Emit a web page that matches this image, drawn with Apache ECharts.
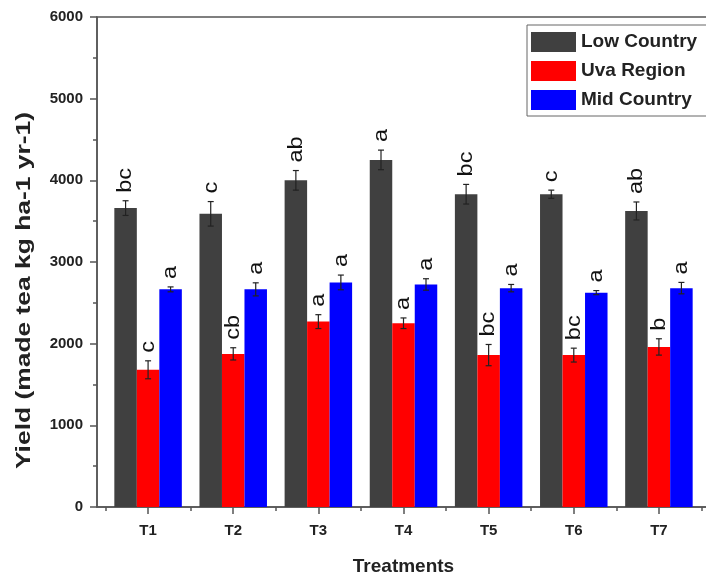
<!DOCTYPE html>
<html><head><meta charset="utf-8">
<script src="https://cdn.jsdelivr.net/npm/echarts@6/dist/echarts.min.js"></script>
<style>html,body{margin:0;padding:0;background:#fff}#c{width:706px;height:579px}</style>
</head><body><div id="c"></div>
<script>
const categories = ['T1','T2','T3','T4','T5','T6','T7'];
const seriesNames = ['Low Country','Uva Region','Mid Country'];
const lowCountry = [3660,3590,4000,4250,3830,3830,3625];
const lowCountryErr = [90,150,120,120,120,50,110];
const uvaRegion = [1680,1875,2270,2250,1860,1860,1960];
const uvaRegionErr = [110,75,85,65,130,85,100];
const midCountry = [2665,2665,2750,2725,2680,2625,2680];
const midCountryErr = [30,80,90,70,45,25,70];
const lowLetters = ['bc','c','ab','a','bc','c','ab'];
const uvaLetters = ['c','cb','a','a','bc','bc','b'];
const midLetters = ['a','a','a','a','a','a','a'];
const yTitle = 'Yield (made tea kg ha-1 yr-1)';
const xTitle = 'Treatments';

const colors = ['#404040','#ff0000','#0000ff'];
const BAR_W = 22.5;
const FONT = '"Liberation Sans", Arial, sans-serif';
const catPos = categories.map((c,i)=>i+1);
const boundaryPos = [0].concat(catPos).map(v=>v+0.5);

function barSeries(name, vals, color){
  return {name, type:'bar', xAxisIndex:0, yAxisIndex:0, barWidth:BAR_W, barGap:'0%',
    itemStyle:{color}, data: vals.map((v,i)=>[catPos[i], v])};
}
function errSeries(name, vals, errs, letters, offset){
  return {name: name+' err', type:'custom', xAxisIndex:0, yAxisIndex:0, z:5,
    data: vals.map((v,i)=>[catPos[i], v, errs[i], i]),
    renderItem(params, api){
      const x = api.value(0), v = api.value(1), e = api.value(2), i = api.value(3);
      const top = api.coord([x, v+e]), bot = api.coord([x, v-e]);
      const cx = top[0] + offset*BAR_W, cap = 3;
      const st = {stroke:'#222', lineWidth:1.2};
      return {type:'group', children:[
        {type:'line', shape:{x1:cx,y1:top[1],x2:cx,y2:bot[1]}, style:st},
        {type:'line', shape:{x1:cx-cap,y1:top[1],x2:cx+cap,y2:top[1]}, style:st},
        {type:'line', shape:{x1:cx-cap,y1:bot[1],x2:cx+cap,y2:bot[1]}, style:st},
        {type:'text', x:cx, y:top[1]-8, rotation:Math.PI/2, scaleX:1.12,
          style:{text:letters[i], fill:'#111', font:'21px '+FONT, align:'left', verticalAlign:'middle'}}
      ]};
    }};
}

const chart = echarts.init(document.getElementById('c'), null, {renderer:'canvas'});
chart.setOption({
  animation:false,
  backgroundColor:'#fff',
  textStyle:{fontFamily:FONT},
  grid:{left:97, top:17, right:-4, bottom:72, show:true, borderColor:'#555', borderWidth:1.5, outerBoundsMode:'none'},
  legend:{orient:'vertical', left:527, top:25, data:seriesNames, icon:'rect', itemWidth:45, itemHeight:20, itemGap:9,
    padding:[7,40,6,4], borderColor:'#666', borderWidth:1, itemStyle:{borderWidth:0},
    textStyle:{fontSize:19, fontWeight:'bold', color:'#222', fontFamily:FONT, padding:[0,0,0,0]}},
  graphic:[{type:'text', left:14, top:112, rotation:Math.PI/2, scaleX:1.32, silent:true,
    style:{text:yTitle, font:'bold 20px '+FONT, fill:'#222'}}],
  xAxis:[
    {type:'value', min:0.4, max:7.6, position:'bottom',
      name:xTitle, nameLocation:'middle', nameGap:50,
      nameTextStyle:{fontSize:19, fontWeight:'bold', color:'#222'},
      axisLine:{show:true, lineStyle:{color:'#555', width:1.5}},
      axisTick:{show:true, inside:false, length:7, customValues:catPos, lineStyle:{color:'#555', width:1.5}},
      axisLabel:{customValues:catPos, formatter:v=>categories[Math.round(v)-1], fontSize:15, fontWeight:'bold', color:'#222', margin:16},
      splitLine:{show:false}},
    {type:'value', min:0.4, max:7.6, position:'bottom',
      axisLine:{show:false},
      axisTick:{show:true, inside:false, length:4, customValues:boundaryPos, lineStyle:{color:'#555', width:1.5}},
      axisLabel:{show:false}, splitLine:{show:false}}
  ],
  yAxis:{type:'value', min:0, max:6000, interval:1000,
    axisLine:{show:true, lineStyle:{color:'#555', width:1.5}},
    axisTick:{show:true, inside:false, length:7, lineStyle:{color:'#555', width:1.5}},
    minorTick:{show:true, splitNumber:2, length:4, lineStyle:{color:'#555', width:1.5}},
    axisLabel:{fontSize:15, fontWeight:'bold', color:'#222', margin:14, formatter:v=>String(v)},
    splitLine:{show:false}},
  series:[
    barSeries(seriesNames[0], lowCountry, colors[0]),
    barSeries(seriesNames[1], uvaRegion, colors[1]),
    barSeries(seriesNames[2], midCountry, colors[2]),
    errSeries(seriesNames[0], lowCountry, lowCountryErr, lowLetters, -1),
    errSeries(seriesNames[1], uvaRegion, uvaRegionErr, uvaLetters, 0),
    errSeries(seriesNames[2], midCountry, midCountryErr, midLetters, 1)
  ]
});
</script></body></html>
